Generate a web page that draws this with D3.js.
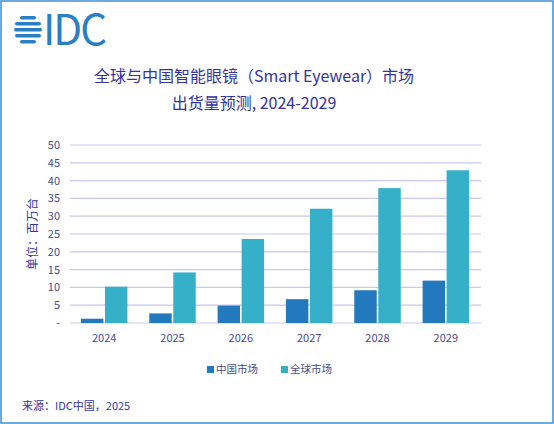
<!DOCTYPE html><html><head><meta charset="utf-8"><script src="https://cdn.jsdelivr.net/npm/d3@7"></script>
<style>body{margin:0;background:#fff}text{font-family:"Noto Sans CJK SC","Noto Sans",sans-serif}</style></head><body><svg id="c" width="554" height="424"></svg>
<script>
const years=["2024","2025","2026","2027","2028","2029"];
const china=[1.2,2.7,4.9,6.7,9.2,11.9];
const globalV=[10.2,14.2,23.6,32.1,37.9,42.9];
const seriesNames=["中国市场","全球市场"];
const colors=["#2279bd","#36b0c8"];
const yTicks=[0,5,10,15,20,25,30,35,40,45,50];
const svg=d3.select("#c");
const tc="#3434a0";
svg.append("rect").attr("x",1).attr("y",1).attr("width",552).attr("height",422).attr("fill","#fff").attr("stroke","#3b8fd6").attr("stroke-width",1.5);
const lg=svg.append("g").attr("fill","#2a7ec4");
[0,1,2,3,4].forEach(i=>{const w=[16,26,28,26,16][i];lg.append("rect").attr("x",28-w/2).attr("y",16+i*6).attr("width",w).attr("height",3.5).attr("rx",1.7);});
lg.append("text").attr("x",43).attr("y",45).attr("font-size",42).attr("font-family","Liberation Sans, Arial").attr("letter-spacing",-2).text("IDC");
svg.append("text").attr("x",254).attr("y",82).attr("text-anchor","middle").attr("font-size",16).attr("fill",tc).text("全球与中国智能眼镜（Smart Eyewear）市场");
svg.append("text").attr("x",254).attr("y",109).attr("text-anchor","middle").attr("font-size",16).attr("fill",tc).text("出货量预测, 2024-2029");
const x0=d3.scaleBand().domain(years).range([70,480]).paddingInner(0.32).paddingOuter(0.16);
const x1=d3.scaleBand().domain([0,1]).range([0,x0.bandwidth()]).paddingInner(0.065);
const y=d3.scaleLinear().domain([0,50]).range([323,145]);
const g=svg.append("g");
yTicks.forEach(t=>{g.append("line").attr("x1",70).attr("x2",481).attr("y1",y(t)).attr("y2",y(t)).attr("stroke","#c8c8f0").attr("stroke-width",1.2);
g.append("text").attr("x",60).attr("y",y(t)+4).attr("text-anchor","end").attr("font-size",11).attr("fill","#4a4a8a").text(t===0?"-":t);});
[china,globalV].forEach((s,si)=>{g.selectAll(null).data(s).enter().append("rect").attr("x",(d,i)=>x0(years[i])+x1(si)).attr("width",x1.bandwidth()).attr("y",d=>y(d)).attr("height",d=>y(0)-y(d)).attr("fill",colors[si]);});
years.forEach(yr=>g.append("text").attr("x",x0(yr)+x0.bandwidth()/2).attr("y",342).attr("text-anchor","middle").attr("font-size",11).attr("fill","#4a4a8a").text(yr));
svg.append("text").attr("transform","translate(37,234) rotate(-90)").attr("text-anchor","middle").attr("font-size",12).attr("fill",tc).text("单位：百万台");
const lx=[207,281];
seriesNames.forEach((n,i)=>{svg.append("rect").attr("x",lx[i]).attr("y",366).attr("width",7).attr("height",7).attr("fill",colors[i]);
svg.append("text").attr("x",lx[i]+9).attr("y",373).attr("font-size",10.5).attr("fill","#4a4a8a").text(n);});
svg.append("text").attr("x",22).attr("y",410).attr("font-size",11).attr("fill",tc).text("来源：IDC中国，2025");
</script></body></html>
